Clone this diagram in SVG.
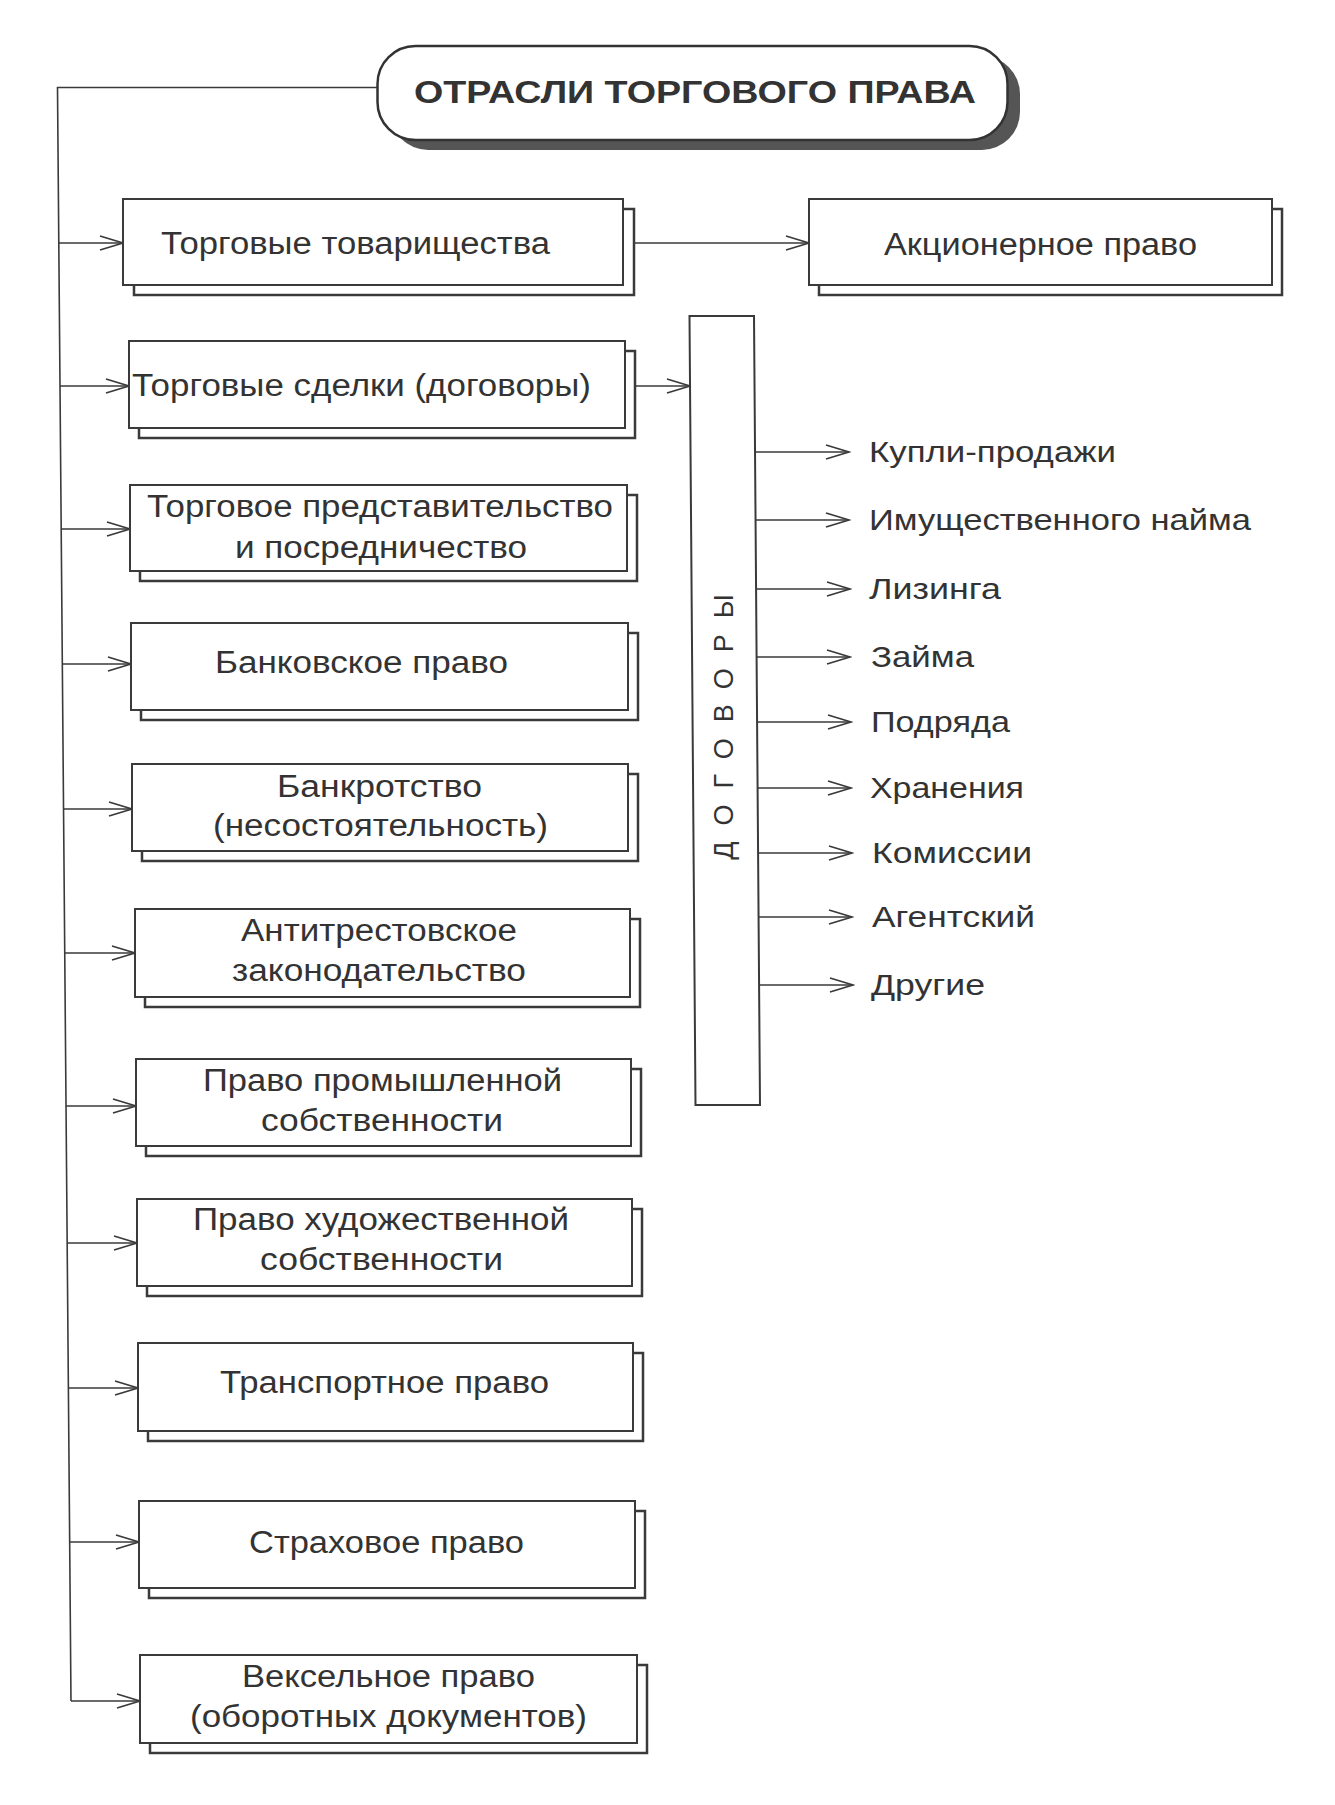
<svg xmlns="http://www.w3.org/2000/svg" width="1335" height="1805" viewBox="0 0 1335 1805">
<style>
.bx{fill:#fff;stroke:#3a3a3a;stroke-width:2}
.sh{fill:#fff;stroke:#3a3a3a;stroke-width:2.5}
.t{font-family:"Liberation Sans",Arial,sans-serif;font-size:31px;fill:#333}
.l{font-family:"Liberation Sans",Arial,sans-serif;font-size:29px;fill:#333}
.c{fill:none;stroke:#3a3a3a;stroke-width:1.6}
</style>
<defs>
<marker id="ar" markerWidth="26" markerHeight="18" refX="24" refY="9" orient="auto" markerUnits="userSpaceOnUse">
<path d="M1,2 L24,9 L1,16" fill="none" stroke="#3a3a3a" stroke-width="1.8"/>
</marker>
</defs>
<rect width="1335" height="1805" fill="#fff"/>

<g id="connectors">
<path class="c" d="M378,87.5 H57.5 L71,1701"/>
<line class="c" x1="58.5" y1="243" x2="123" y2="243" marker-end="url(#ar)"/>
<line class="c" x1="60" y1="386" x2="129" y2="386" marker-end="url(#ar)"/>
<line class="c" x1="61" y1="529" x2="130" y2="529" marker-end="url(#ar)"/>
<line class="c" x1="62" y1="664" x2="131" y2="664" marker-end="url(#ar)"/>
<line class="c" x1="63.5" y1="809" x2="132" y2="809" marker-end="url(#ar)"/>
<line class="c" x1="64.7" y1="953" x2="135" y2="953" marker-end="url(#ar)"/>
<line class="c" x1="66" y1="1106" x2="136" y2="1106" marker-end="url(#ar)"/>
<line class="c" x1="67" y1="1243" x2="137" y2="1243" marker-end="url(#ar)"/>
<line class="c" x1="68.4" y1="1388" x2="138" y2="1388" marker-end="url(#ar)"/>
<line class="c" x1="69.6" y1="1542" x2="139" y2="1542" marker-end="url(#ar)"/>
<line class="c" x1="71" y1="1701" x2="140" y2="1701" marker-end="url(#ar)"/>
<line class="c" x1="634" y1="243" x2="809" y2="243" marker-end="url(#ar)"/>
<line class="c" x1="636" y1="386" x2="690" y2="386" marker-end="url(#ar)"/>
<line class="c" x1="755" y1="452" x2="849" y2="452" marker-end="url(#ar)"/>
<line class="c" x1="755" y1="520" x2="849" y2="520" marker-end="url(#ar)"/>
<line class="c" x1="756" y1="589" x2="850" y2="589" marker-end="url(#ar)"/>
<line class="c" x1="756" y1="657" x2="850" y2="657" marker-end="url(#ar)"/>
<line class="c" x1="757" y1="722" x2="851" y2="722" marker-end="url(#ar)"/>
<line class="c" x1="757" y1="788" x2="851" y2="788" marker-end="url(#ar)"/>
<line class="c" x1="758" y1="853" x2="852" y2="853" marker-end="url(#ar)"/>
<line class="c" x1="758" y1="917" x2="852" y2="917" marker-end="url(#ar)"/>
<line class="c" x1="759" y1="985" x2="853" y2="985" marker-end="url(#ar)"/>
</g>

<g id="title">
<rect x="390" y="56" width="630" height="94" rx="38" fill="#555"/>
<rect x="377.5" y="46" width="630" height="94" rx="38" fill="#fff" stroke="#333" stroke-width="2.5"/>
<text x="414" y="103" textLength="562" lengthAdjust="spacingAndGlyphs" style="font-family:'Liberation Sans',Arial,sans-serif;font-size:31px;font-weight:bold;fill:#333">ОТРАСЛИ ТОРГОВОГО ПРАВА</text>
</g>

<g id="n1">
<rect class="sh" x="134" y="209" width="500" height="86"/>
<rect class="bx" x="123" y="199" width="500" height="86"/>
<text class="t" x="161" y="254" textLength="389" lengthAdjust="spacingAndGlyphs">Торговые товарищества</text>
</g>
<g id="n2">
<rect class="sh" x="139" y="351" width="496" height="87"/>
<rect class="bx" x="129" y="341" width="496" height="87"/>
<text class="t" x="132" y="396" textLength="459" lengthAdjust="spacingAndGlyphs">Торговые сделки (договоры)</text>
</g>
<g id="n3">
<rect class="sh" x="140" y="495" width="497" height="86"/>
<rect class="bx" x="130" y="485" width="497" height="86"/>
<text class="t" x="147" y="517" textLength="466" lengthAdjust="spacingAndGlyphs">Торговое представительство</text>
<text class="t" x="235" y="558" textLength="292" lengthAdjust="spacingAndGlyphs">и посредничество</text>
</g>
<g id="n4">
<rect class="sh" x="141" y="633" width="497" height="87"/>
<rect class="bx" x="131" y="623" width="497" height="87"/>
<text class="t" x="215" y="673" textLength="293" lengthAdjust="spacingAndGlyphs">Банковское право</text>
</g>
<g id="n5">
<rect class="sh" x="142" y="774" width="496" height="87"/>
<rect class="bx" x="132" y="764" width="496" height="87"/>
<text class="t" x="277" y="797" textLength="205" lengthAdjust="spacingAndGlyphs">Банкротство</text>
<text class="t" x="213" y="836" textLength="335" lengthAdjust="spacingAndGlyphs">(несостоятельность)</text>
</g>
<g id="n6">
<rect class="sh" x="145" y="919" width="495" height="88"/>
<rect class="bx" x="135" y="909" width="495" height="88"/>
<text class="t" x="241" y="941" textLength="276" lengthAdjust="spacingAndGlyphs">Антитрестовское</text>
<text class="t" x="232" y="981" textLength="294" lengthAdjust="spacingAndGlyphs">законодательство</text>
</g>
<g id="n7">
<rect class="sh" x="146" y="1069" width="495" height="87"/>
<rect class="bx" x="136" y="1059" width="495" height="87"/>
<text class="t" x="203" y="1091" textLength="359" lengthAdjust="spacingAndGlyphs">Право промышленной</text>
<text class="t" x="261" y="1131" textLength="242" lengthAdjust="spacingAndGlyphs">собственности</text>
</g>
<g id="n8">
<rect class="sh" x="147" y="1209" width="495" height="87"/>
<rect class="bx" x="137" y="1199" width="495" height="87"/>
<text class="t" x="193" y="1230" textLength="376" lengthAdjust="spacingAndGlyphs">Право художественной</text>
<text class="t" x="260" y="1270" textLength="243" lengthAdjust="spacingAndGlyphs">собственности</text>
</g>
<g id="n9">
<rect class="sh" x="148" y="1353" width="495" height="88"/>
<rect class="bx" x="138" y="1343" width="495" height="88"/>
<text class="t" x="220" y="1393" textLength="329" lengthAdjust="spacingAndGlyphs">Транспортное право</text>
</g>
<g id="n10">
<rect class="sh" x="149" y="1511" width="496" height="87"/>
<rect class="bx" x="139" y="1501" width="496" height="87"/>
<text class="t" x="249" y="1553" textLength="275" lengthAdjust="spacingAndGlyphs">Страховое право</text>
</g>
<g id="n11">
<rect class="sh" x="150" y="1665" width="497" height="88"/>
<rect class="bx" x="140" y="1655" width="497" height="88"/>
<text class="t" x="242" y="1687" textLength="293" lengthAdjust="spacingAndGlyphs">Вексельное право</text>
<text class="t" x="190" y="1727" textLength="397" lengthAdjust="spacingAndGlyphs">(оборотных документов)</text>
</g>

<g id="akts">
<rect class="sh" x="819" y="209" width="463" height="86"/>
<rect class="bx" x="809" y="199" width="463" height="86"/>
<text class="t" x="884" y="255" textLength="313" lengthAdjust="spacingAndGlyphs">Акционерное право</text>
</g>

<g id="dogovory">
<polygon points="689.5,316 754,316 760,1105 695.5,1105" fill="#fff" stroke="#3a3a3a" stroke-width="2"/>
<text transform="translate(733,719) rotate(-90)" text-anchor="middle" style="font-family:'Liberation Sans',Arial,sans-serif;font-size:27px;fill:#333;letter-spacing:16px">ДОГОВОРЫ</text>
</g>

<g id="list">
<text class="l" x="869" y="462" textLength="247" lengthAdjust="spacingAndGlyphs">Купли-продажи</text>
<text class="l" x="869" y="530" textLength="382" lengthAdjust="spacingAndGlyphs">Имущественного найма</text>
<text class="l" x="869" y="599" textLength="132" lengthAdjust="spacingAndGlyphs">Лизинга</text>
<text class="l" x="871" y="667" textLength="103" lengthAdjust="spacingAndGlyphs">Займа</text>
<text class="l" x="871" y="732" textLength="139" lengthAdjust="spacingAndGlyphs">Подряда</text>
<text class="l" x="870" y="798" textLength="154" lengthAdjust="spacingAndGlyphs">Хранения</text>
<text class="l" x="872" y="863" textLength="160" lengthAdjust="spacingAndGlyphs">Комиссии</text>
<text class="l" x="872" y="927" textLength="163" lengthAdjust="spacingAndGlyphs">Агентский</text>
<text class="l" x="871" y="995" textLength="114" lengthAdjust="spacingAndGlyphs">Другие</text>
</g>
</svg>
